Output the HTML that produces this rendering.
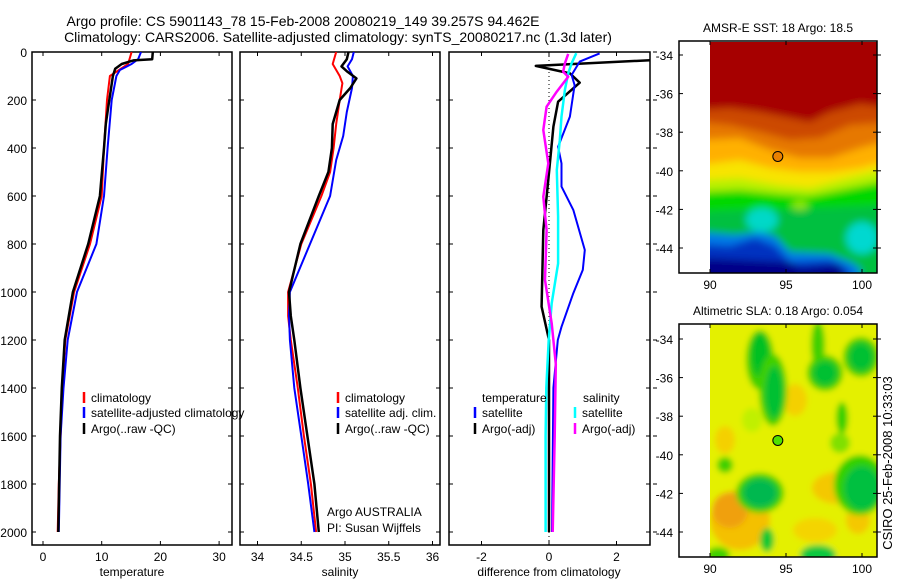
<!DOCTYPE html>
<html><head><meta charset="utf-8"><style>
html,body{margin:0;padding:0;background:#fff;}
svg{display:block;font-family:"Liberation Sans",sans-serif;}
</style></head><body>
<svg id="fig" width="900" height="580" viewBox="0 0 900 580" xmlns="http://www.w3.org/2000/svg">
<defs>
<clipPath id="c1"><rect x="32" y="52" width="200" height="493"/></clipPath>
<clipPath id="c2"><rect x="240" y="52" width="200" height="493"/></clipPath>
<clipPath id="c3"><rect x="449" y="52" width="201" height="493"/></clipPath>
<clipPath id="cm1"><rect x="710" y="42" width="167" height="231"/></clipPath>
<clipPath id="cm2"><rect x="710" y="324" width="167" height="233"/></clipPath>
<filter id="bl" x="-20%" y="-20%" width="140%" height="140%"><feGaussianBlur stdDeviation="4"/></filter>
<filter id="bl2" x="-50%" y="-50%" width="200%" height="200%"><feGaussianBlur stdDeviation="3"/></filter>
</defs>
<g font-size="14" text-anchor="middle" fill="#000">
<text x="303" y="26">Argo profile: CS 5901143_78 15-Feb-2008 20080219_149 39.257S 94.462E</text>
<text x="338" y="42">Climatology: CARS2006. Satellite-adjusted climatology: synTS_20080217.nc (1.3d later)</text>
</g>
<g id="panels"></g>
<g>
<g clip-path="url(#cm1)">
<g filter="url(#bl)">
<rect x="700" y="30" width="190" height="260" fill="#a60000"/>
<path d="M700,110 L730,108 L760,112 L790,118 L810,122 L830,112 L860,104 L890,108 L890,290 L700,290Z" fill="#cc4a00"/>
<path d="M700,122 L730,125 L760,132 L790,140 L820,138 L850,125 L890,122 L890,290 L700,290Z" fill="#e67800"/>
<path d="M700,140 L740,138 L770,150 L800,158 L830,158 L860,148 L890,140 L890,290 L700,290Z" fill="#ffb000"/>
<path d="M700,165 L740,160 L770,168 L800,172 L830,172 L860,168 L890,160 L890,290 L700,290Z" fill="#f8e400"/>
<path d="M700,180 L740,178 L780,185 L810,188 L840,180 L890,168 L890,290 L700,290Z" fill="#b8f000"/>
<path d="M700,192 L740,190 L780,194 L810,196 L840,190 L890,180 L890,290 L700,290Z" fill="#00d800"/>
<path d="M700,212 L740,210 L780,210 L820,208 L890,205 L890,290 L700,290Z" fill="#00c040"/>
<ellipse cx="762" cy="220" rx="16" ry="12" fill="#00d8c8"/>
<ellipse cx="862" cy="238" rx="16" ry="16" fill="#00d8d0"/>
<ellipse cx="800" cy="205" rx="8" ry="5" fill="#90e800"/>
<path d="M700,232 L735,235 L760,232 L775,236 L790,252 L830,254 L850,262 L860,268 L860,290 L700,290Z" fill="#0078e8"/>
<path d="M700,244 L730,246 L755,238 L775,246 L790,262 L830,260 L850,270 L850,290 L700,290Z" fill="#0030c0"/>
<path d="M700,258 L790,262 L800,268 L840,264 L850,290 L700,290Z" fill="#000088"/>
</g>
</g>
</g>
<g>
<g clip-path="url(#cm2)">
<g filter="url(#bl2)">
<rect x="700" y="315" width="190" height="250" fill="#e4f000"/>
<ellipse cx="740" cy="520" rx="30" ry="30" fill="#f4c000"/>
<ellipse cx="730" cy="510" rx="18" ry="18" fill="#f0a010"/>
<ellipse cx="795" cy="400" rx="12" ry="16" fill="#f4d000"/>
<ellipse cx="725" cy="440" rx="10" ry="14" fill="#f4d000"/>
<ellipse cx="838" cy="488" rx="26" ry="16" fill="#f4c800"/>
<ellipse cx="815" cy="530" rx="22" ry="12" fill="#f4d400"/>
<ellipse cx="858" cy="520" rx="12" ry="14" fill="#f4c800"/>
<ellipse cx="760" cy="360" rx="14" ry="30" fill="#40d000"/>
<ellipse cx="760" cy="355" rx="9" ry="22" fill="#00c020"/>
<ellipse cx="752" cy="420" rx="10" ry="12" fill="#c0f000"/>
<ellipse cx="773" cy="390" rx="14" ry="36" fill="#40d000"/>
<ellipse cx="774" cy="392" rx="9" ry="26" fill="#00c030"/>
<ellipse cx="818" cy="345" rx="7" ry="24" fill="#40d000"/>
<ellipse cx="825" cy="373" rx="18" ry="18" fill="#40d000"/>
<ellipse cx="825" cy="373" rx="12" ry="12" fill="#00c030"/>
<ellipse cx="861" cy="357" rx="18" ry="20" fill="#40d000"/>
<ellipse cx="861" cy="357" rx="12" ry="14" fill="#00c030"/>
<ellipse cx="842" cy="418" rx="6" ry="16" fill="#30d000"/>
<ellipse cx="860" cy="485" rx="26" ry="30" fill="#30d000"/>
<ellipse cx="862" cy="488" rx="18" ry="22" fill="#00c040"/>
<ellipse cx="760" cy="493" rx="24" ry="20" fill="#30d000"/>
<ellipse cx="760" cy="493" rx="17" ry="14" fill="#00b850"/>
<ellipse cx="725" cy="465" rx="8" ry="8" fill="#40d000"/>
<ellipse cx="767" cy="540" rx="7" ry="12" fill="#10c830"/>
<ellipse cx="818" cy="555" rx="18" ry="10" fill="#10c840"/>
<ellipse cx="718" cy="555" rx="12" ry="8" fill="#40d000"/>
<ellipse cx="840" cy="443" rx="10" ry="10" fill="#80e000"/>
</g>
</g>
</g>
<g id="maps-axes"></g>
<text transform="translate(892,463) rotate(-90)" font-size="13" text-anchor="middle">CSIRO 25-Feb-2008 10:33:03</text>
</svg>
<script>
// ---------- data ----------
const tickDepths = [0,200,400,600,800,1000,1200,1400,1600,1800,2000];
const tempTicks = [0,10,20,30];
const salTicks = [34,34.5,35,35.5,36];
const salTickLabels = ["34","34.5","35","35.5","36"];
const diffTicks = [-2,0,2];
const diffTickLabels = ["-2","0","2"];

const tClimDepth = [0,50,100,200,400,600,800,1000,1200,1400,1600,1800,2000];
const tClim      = [15.1,14.5,11.4,10.9,10.4,10.0,8.0,5.3,3.8,3.3,3.0,2.7,2.5];
const tSatDepth  = [0,30,50,75,100,200,400,600,800,1000,1200,1400,1600,2000];
const tSat       = [16.7,16.2,15.1,13.1,12.5,11.7,11.0,10.4,9.1,5.8,4.2,3.5,3.0,2.7];
const tArgoDepth = [0,30,35,50,70,100,200,300,400,600,800,1000,1200,1400,1600,2000];
const tArgo      = [18.7,18.6,15.4,13.4,12.3,11.9,11.3,10.7,10.4,9.7,7.7,5.1,3.7,3.2,2.9,2.6];

const sClimDepth = [0,50,100,130,200,300,400,500,600,800,1000,1100,1200,1400,1600,1800,2000];
const sClim      = [34.90,34.86,34.94,34.97,34.94,34.90,34.87,34.83,34.73,34.50,34.35,34.35,34.38,34.46,34.53,34.61,34.67];
const sSatDepth  = [0,30,60,100,150,250,350,450,600,800,1000,1100,1200,1400,1600,1800,2000];
const sSat       = [35.10,35.08,35.03,35.09,35.08,35.02,34.98,34.90,34.83,34.60,34.37,34.36,34.37,34.42,34.50,34.58,34.65];
const sArgoDepth = [0,30,60,80,110,150,200,300,400,500,600,800,1000,1100,1200,1400,1600,1800,2000];
const sArgo      = [35.04,35.02,34.96,35.02,35.13,35.06,34.94,34.86,34.85,34.81,34.70,34.49,34.36,34.38,34.42,34.49,34.57,34.65,34.70];

const dTArgoDepth = [0,30,58,89,128,207,311,533,742,1061,1200,1600,2000];
const dTArgo      = [3.6,3.6,-0.39,0.62,0.91,0.27,0.13,-0.02,-0.17,-0.22,0.0,0.0,0.0];
const dTSatDepth  = [6,40,96,138,269,395,464,561,658,825,908,1005,1145,1200,1400,2000];
const dTSat       = [1.5,0.91,0.67,0.76,0.62,0.27,0.37,0.37,0.72,1.06,1.0,0.72,0.37,0.26,0.13,0.09];
const dSSatDepth  = [5,47,89,158,269,367,492,686,881,1047,1200,1400,1600,2000];
const dSSat       = [0.81,0.67,0.57,0.47,0.37,0.32,0.23,0.27,0.27,0.08,-0.01,-0.08,-0.1,-0.1];
const dSArgoDepth = [8,47,82,103,165,228,325,464,603,742,950,1131,1300,1600,2000];
const dSArgo      = [0.57,0.47,0.42,0.57,0.23,-0.07,-0.17,-0.02,-0.17,-0.07,-0.12,0.08,0.2,0.17,0.11];

const lonTicks = [90,95,100];
const latTicks = [-34,-36,-38,-40,-42,-44];
const argoLon = 94.462;
const argoLat = -39.257;

// ---------- scales ----------
const yZ = z => 52 + z*0.24;
const xT = t => 43 + t*5.87;
const xS = s => 345 + (s-35)*87.5;
const xD = d => 549 + d*33.75;
const xLon = lon => 710 + (lon-90)*15.2;
const yLat1 = lat => 55 + (-34-lat)*19.3;
const yLat2 = lat => 339 + (-34-lat)*19.3;

const NS = "http://www.w3.org/2000/svg";
const panels = document.getElementById('panels');
function mk(tag, attrs, parent){
  const e = document.createElementNS(NS, tag);
  for (const k in attrs) e.setAttribute(k, attrs[k]);
  (parent||panels).appendChild(e);
  return e;
}
function txt(x,y,s,size,anchor,parent){
  const t = mk('text',{x:x,y:y,'font-size':size,'text-anchor':anchor||'start'},parent);
  t.textContent = s;
  return t;
}
function line(depths, vals, xf, color, w, clip, name){
  let d = '';
  for (let i=0;i<depths.length;i++) d += (i?'L':'M') + xf(vals[i]).toFixed(1) + ',' + yZ(depths[i]).toFixed(1);
  const p = mk('path',{d:d,fill:'none',stroke:color,'stroke-width':w,'clip-path':'url(#'+clip+')','stroke-linejoin':'round'});
  
  
}
function frame(x0,x1,name){
  const r = mk('rect',{x:x0,y:52,width:x1-x0,height:493,fill:'none',stroke:'#000','stroke-width':1.5});
  
  
  tickDepths.forEach(z=>{
    mk('line',{x1:x0,x2:x0+4,y1:yZ(z),y2:yZ(z),stroke:'#000'});
    mk('line',{x1:x1-4,x2:x1,y1:yZ(z),y2:yZ(z),stroke:'#000'});
  });
}
function xticks(vals,labels,xf,name){
  vals.forEach((v,i)=>{
    const x = xf(v);
    mk('line',{x1:x,x2:x,y1:52,y2:56,stroke:'#000'});
    mk('line',{x1:x,x2:x,y1:541,y2:545,stroke:'#000'});
    const t = txt(x,561,labels[i],12,'middle');
    
    
  });
}
function legendItem(x,y,color,label,name){
  mk('line',{x1:x,x2:x,y1:y-10,y2:y+1,stroke:color,'stroke-width':2.5});
  const t = txt(x+7,y,label,12,'start');
  
  
}

// panel frames
frame(32,232,'temperature-panel');
frame(240,440,'salinity-panel');
frame(449,650,'difference-panel');
tickDepths.forEach(z=>{
  const t = txt(27,yZ(z)+5,String(z),12,'end');
  
  
  mk('line',{x1:653,x2:657,y1:yZ(z),y2:yZ(z),stroke:'#000'});
});
xticks(tempTicks,tempTicks.map(String),xT,'temperature-tick-label');
xticks(salTicks,salTickLabels,xS,'salinity-tick-label');
xticks(diffTicks,diffTickLabels,xD,'difference-tick-label');
[['temperature',132],['salinity',340],['difference from climatology',549]].forEach(a=>{
  const t = txt(a[1],576,a[0],12,'middle');
  
  
});

// zero dotted line
mk('line',{x1:xD(0),x2:xD(0),y1:52,y2:545,stroke:'#000','stroke-dasharray':'1,3'});

// series
line(tClimDepth,tClim,xT,'#ff0000',2,'c1','temp-climatology-line');
line(tSatDepth,tSat,xT,'#0000ff',2,'c1','temp-satellite-line');
line(tArgoDepth,tArgo,xT,'#000',2.5,'c1','temp-argo-line');
line(sClimDepth,sClim,xS,'#ff0000',2,'c2','sal-climatology-line');
line(sSatDepth,sSat,xS,'#0000ff',2,'c2','sal-satellite-line');
line(sArgoDepth,sArgo,xS,'#000',2.5,'c2','sal-argo-line');
line(dTArgoDepth,dTArgo,xD,'#000',2.5,'c3','diff-temp-argo-line');
line(dTSatDepth,dTSat,xD,'#0000ff',2,'c3','diff-temp-satellite-line');
line(dSSatDepth,dSSat,xD,'#00ffff',2.5,'c3','diff-sal-satellite-line');
line(dSArgoDepth,dSArgo,xD,'#ff00ff',2.5,'c3','diff-sal-argo-line');

// legends
legendItem(84,402,'#ff0000','climatology','legend-entry');
legendItem(84,417,'#0000ff','satellite-adjusted climatology','legend-entry');
legendItem(84,433,'#000','Argo(..raw -QC)','legend-entry');
legendItem(338,402,'#ff0000','climatology','legend-entry');
legendItem(338,417,'#0000ff','satellite adj. clim.','legend-entry');
legendItem(338,433,'#000','Argo(..raw -QC)','legend-entry');
let lt = txt(482,402,'temperature',12,'start');  
lt = txt(583,402,'salinity',12,'start');  
legendItem(475,417,'#0000ff','satellite','legend-entry');
legendItem(475,433,'#000','Argo(-adj)','legend-entry');
legendItem(575,417,'#00ffff','satellite','legend-entry');
legendItem(575,433,'#ff00ff','Argo(-adj)','legend-entry');
lt = txt(327,516,'Argo AUSTRALIA',12,'start');  
lt = txt(327,532,'PI: Susan Wijffels',12,'start');  

// map axes
const ma = document.getElementById('maps-axes');
function mapAxes(top,bottom,yLat,title,markerColor,name){
  const r = mk('rect',{x:679,y:top,width:198,height:bottom-top,fill:'none',stroke:'#000','stroke-width':1.5},ma);
  
  
  lonTicks.forEach(v=>{
    const x = xLon(v);
    mk('line',{x1:x,x2:x,y1:top,y2:top+4,stroke:'#000'},ma);
    mk('line',{x1:x,x2:x,y1:bottom-4,y2:bottom,stroke:'#000'},ma);
    const t = txt(x,bottom+16,String(v),12,'middle',ma);
    
    
  });
  latTicks.forEach(v=>{
    const y = yLat(v);
    mk('line',{x1:679,x2:683,y1:y,y2:y,stroke:'#000'},ma);
    mk('line',{x1:873,x2:881,y1:y,y2:y,stroke:'#000'},ma);
    const t = txt(673,y+5,String(v),12,'end',ma);
    
    
  });
  const tt = txt(778,top-9,title,12,'middle',ma);
  
  
  const c = mk('circle',{cx:xLon(argoLon),cy:yLat(argoLat),r:5,fill:markerColor,stroke:'#000','stroke-width':1},ma);
  
  
}
mapAxes(41,273,yLat1,'AMSR-E SST: 18 Argo: 18.5','#e88000','sst-map-axes');
mapAxes(324,557,yLat2,'Altimetric SLA: 0.18 Argo: 0.054','#50e000','sla-map-axes');
</script>
</body></html>
